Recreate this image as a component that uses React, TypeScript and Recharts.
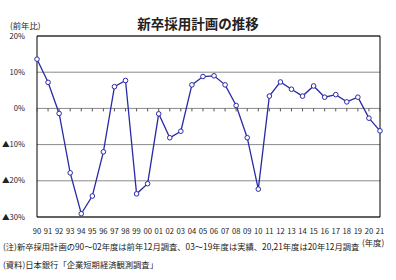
import { LineChart, Line, XAxis, YAxis, CartesianGrid, ReferenceArea } from "recharts";

const years = ["90","91","92","93","94","95","96","97","98","99","00","01","02","03","04","05","06","07","08","09","10","11","12","13","14","15","16","17","18","19","20","21"];
const plans = [13.6,7.2,-1.4,-17.8,-29.1,-24.2,-12.0,6.0,7.7,-23.6,-20.8,-1.5,-8.1,-6.3,6.5,8.8,9.0,6.5,0.8,-8.1,-22.3,3.4,7.3,5.3,3.4,6.2,3.1,3.8,1.8,3.1,-2.7,-6.2];
const yTicks = [-30, -20, -10, 0, 10, 20];

const rows = years.map((y, i) => ({ year: y, v: plans[i] }));

const W = 396;
const H = 280;
const TOP = 36;
const BOTTOM = 217;
const LEFT = 37;
const RIGHT = 380;
const ZERO_Y = TOP + (BOTTOM - TOP) * (20 / 50);
const LINE = "#2a2aa6";
const FONT = "'Noto Sans CJK JP', 'Noto Sans', sans-serif";

const fmtY = (v: number) => (v < 0 ? "▲" + Math.abs(v) + "%" : v + "%");

function YearTick(props: any) {
  const { x, payload } = props;
  return (
    <g>
      <line x1={x} x2={x} y1={ZERO_Y} y2={ZERO_Y + 3} stroke="#555" strokeWidth={1} />
      <text x={x} y={BOTTOM + 17} textAnchor="middle" fontSize={7.6} fill="#222" fontFamily={FONT}>
        {payload.value}
      </text>
    </g>
  );
}

export default function App() {
  return (
    <div style={{ position: "absolute", left: 0, top: 0, width: W, height: H, background: "#fff", fontFamily: FONT }}>
      <LineChart width={W} height={H} data={rows} margin={{ top: TOP, right: W - RIGHT, bottom: 0, left: 0 }}>
        <CartesianGrid vertical={false} stroke="#8a8a8a" strokeWidth={1} />
        <ReferenceArea x1="90" x2="21" y1={-30} y2={20} fill="none" stroke="#000" strokeWidth={1} ifOverflow="visible" />
        <XAxis dataKey="year" height={H - BOTTOM} axisLine={false} tickLine={false} interval={0} tick={<YearTick />} />
        <YAxis
          width={LEFT}
          domain={[-30, 20]}
          ticks={yTicks}
          tickFormatter={fmtY}
          axisLine={false}
          tickLine={false}
          tick={{ fontSize: 7.6, fill: "#222", fontFamily: FONT }}
          tickMargin={6}
          interval={0}
        />
        <Line
          type="linear"
          dataKey="v"
          stroke={LINE}
          strokeWidth={1.3}
          dot={{ r: 2.3, fill: "#fff", stroke: LINE, strokeWidth: 1 }}
          isAnimationActive={false}
        />
      </LineChart>
      <div style={{ position: "absolute", left: 0, width: W, top: 14, textAlign: "center", fontSize: 13.5, fontWeight: "bold", color: "#222", lineHeight: "18px" }}>
        新卒採用計画の推移
      </div>
      <div style={{ position: "absolute", left: 10, top: 20, fontSize: 8.3, color: "#222", lineHeight: "10px", whiteSpace: "nowrap" }}>(前年比)</div>
      <div style={{ position: "absolute", left: 362, top: 237, fontSize: 8.3, color: "#222", lineHeight: "10px", whiteSpace: "nowrap" }}>(年度)</div>
      <div style={{ position: "absolute", left: 3, top: 241, fontSize: 8.3, color: "#222", lineHeight: "10px", whiteSpace: "nowrap" }}>
        (注)新卒採用計画の90～02年度は前年12月調査、03～19年度は実績、20,21年度は20年12月調査
      </div>
      <div style={{ position: "absolute", left: 3, top: 259, fontSize: 8.3, color: "#222", lineHeight: "10px", whiteSpace: "nowrap" }}>
        (資料)日本銀行「企業短期経済観測調査」
      </div>
    </div>
  );
}
